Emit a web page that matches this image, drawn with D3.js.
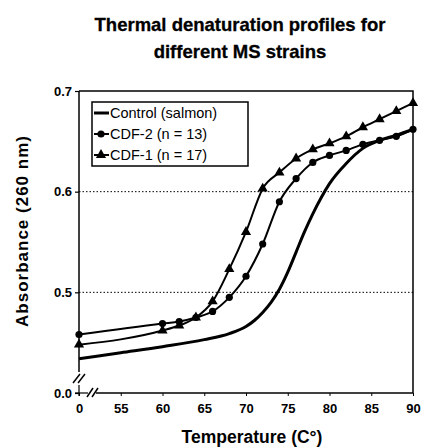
<!DOCTYPE html>
<html>
<head>
<meta charset="utf-8">
<script src="https://cdn.jsdelivr.net/npm/d3@7"></script>
<style>
  body { margin: 0; background: #fff; }
  text { font-family: "Liberation Sans", Arial, sans-serif; }
</style>
</head>
<body>
<svg id="chart" width="431" height="448"></svg>
<script>
// temperatures (first point is the "0" reading at the axis origin)
var tempsCtrl = [50, 55, 60, 65, 68, 70, 71, 72, 73, 74, 75, 76, 77, 78, 79, 80, 82, 84, 86, 88, 90];
var control   = [0.434, 0.440, 0.446, 0.453, 0.459, 0.466, 0.472, 0.480, 0.490, 0.503, 0.520, 0.540, 0.560, 0.578, 0.594, 0.608, 0.628, 0.643, 0.651, 0.656, 0.662];

var tempsCdf = [50, 60, 62, 64, 66, 68, 70, 72, 74, 76, 78, 80, 82, 84, 86, 88, 90];
var cdf2 = [0.458, 0.469, 0.471, 0.475, 0.481, 0.495, 0.516, 0.548, 0.590, 0.613, 0.629, 0.636, 0.641, 0.647, 0.651, 0.655, 0.662];
var cdf1 = [0.448, 0.462, 0.467, 0.475, 0.491, 0.523, 0.560, 0.603, 0.619, 0.633, 0.642, 0.648, 0.655, 0.664, 0.672, 0.680, 0.688];

var xTicks = [50, 55, 60, 65, 70, 75, 80, 85, 90];
var yTicks = [0.4, 0.5, 0.6, 0.7];
var gridValues = [0.5, 0.6];
var legendLabels = ['Control (salmon)', 'CDF-2 (n = 13)', 'CDF-1 (n = 17)'];

var svg = d3.select('#chart');
var mLeft = 79, mRight = 413, mTop = 91, mBottom = 393;

var x = d3.scaleLinear().domain([50, 90]).range([mLeft, mRight]);
var y = d3.scaleLinear().domain([0.4, 0.7]).range([mBottom, mTop]);

// title
svg.append('text')
    .attr('x', 240).attr('y', 31)
    .attr('text-anchor', 'middle')
    .style('font-size', '18.5px').style('font-weight', 'bold')
    .attr('stroke', '#000').attr('stroke-width', 0.3)
    .text('Thermal denaturation profiles for');
svg.append('text')
    .attr('x', 240).attr('y', 58)
    .attr('text-anchor', 'middle')
    .style('font-size', '18.5px').style('font-weight', 'bold')
    .attr('stroke', '#000').attr('stroke-width', 0.3)
    .text('different MS strains');

// dotted grid
svg.append('g').selectAll('line')
    .data(gridValues)
    .join('line')
    .attr('x1', mLeft).attr('x2', mRight)
    .attr('y1', d => y(d)).attr('y2', d => y(d))
    .attr('stroke', '#000').attr('stroke-width', 1)
    .attr('stroke-dasharray', '1.5,2');

// frame: top and right
svg.append('path')
    .attr('d', `M${mLeft},${mTop}H${mRight}V${mBottom}`)
    .attr('fill', 'none').attr('stroke', '#000').attr('stroke-width', 1.5);

// y axis with break
var yAxis = svg.append('g').attr('transform', `translate(${mLeft},0)`)
    .call(d3.axisLeft(y).tickValues(yTicks).tickSize(4)
        .tickFormat(d => d === 0.4 ? '0.0' : d3.format('.1f')(d)));
yAxis.select('.domain').remove();
yAxis.selectAll('text').style('font-size', '13px').style('font-weight', 'bold');
yAxis.selectAll('line').attr('stroke-width', 1.2);

svg.append('line').attr('x1', mLeft).attr('x2', mLeft).attr('y1', mTop).attr('y2', 372)
    .attr('stroke', '#000').attr('stroke-width', 1.5);
svg.append('line').attr('x1', mLeft).attr('x2', mLeft).attr('y1', 385).attr('y2', mBottom + 3)
    .attr('stroke', '#000').attr('stroke-width', 1.2);
[0, 5].forEach(function (o) {
  svg.append('line').attr('x1', mLeft - 6 + o).attr('y1', 383).attr('x2', mLeft + 1 + o).attr('y2', 374)
      .attr('stroke', '#000').attr('stroke-width', 1.5);
});

// x axis with break
var xAxis = svg.append('g').attr('transform', `translate(0,${mBottom})`)
    .call(d3.axisBottom(x).tickValues(xTicks).tickSize(3)
        .tickFormat(d => d === 50 ? '0' : d));
xAxis.select('.domain').remove();
xAxis.selectAll('text').style('font-size', '13px').style('font-weight', 'bold').attr('dy', '1.1em');

svg.append('line').attr('x1', mLeft - 4).attr('x2', mLeft + 9).attr('y1', mBottom).attr('y2', mBottom)
    .attr('stroke', '#000').attr('stroke-width', 1.2);
svg.append('line').attr('x1', mLeft + 17).attr('x2', mRight).attr('y1', mBottom).attr('y2', mBottom)
    .attr('stroke', '#000').attr('stroke-width', 1.5);
[0, 5].forEach(function (o) {
  svg.append('line').attr('x1', mLeft + 8 + o).attr('y1', mBottom + 4).attr('x2', mLeft + 14 + o).attr('y2', mBottom - 5)
      .attr('stroke', '#000').attr('stroke-width', 1.5);
});

// axis titles
svg.append('text')
    .attr('transform', 'translate(28,231) rotate(-90)')
    .attr('text-anchor', 'middle')
    .style('font-size', '17px').style('font-weight', 'bold')
    .style('letter-spacing', '1px')
    .text('Absorbance (260 nm)');
svg.append('text')
    .attr('x', 252).attr('y', 443)
    .attr('text-anchor', 'middle')
    .style('font-size', '17.5px').style('font-weight', 'bold')
    .text('Temperature (C°)');

// curves
var line = d3.line().curve(d3.curveMonotoneX).x(d => x(d[0])).y(d => y(d[1]));

var ctrlData = tempsCtrl.map((t, i) => [t, control[i]]);
var cdf2Data = tempsCdf.map((t, i) => [t, cdf2[i]]);
var cdf1Data = tempsCdf.map((t, i) => [t, cdf1[i]]);

svg.append('path').datum(ctrlData).attr('d', line)
    .attr('fill', 'none').attr('stroke', '#000').attr('stroke-width', 3);
svg.append('path').datum(cdf2Data).attr('d', line)
    .attr('fill', 'none').attr('stroke', '#000').attr('stroke-width', 2);
svg.append('path').datum(cdf1Data).attr('d', line)
    .attr('fill', 'none').attr('stroke', '#000').attr('stroke-width', 2);

svg.append('g').selectAll('circle')
    .data(cdf2Data)
    .join('circle')
    .attr('cx', d => x(d[0])).attr('cy', d => y(d[1]))
    .attr('r', 3.6).attr('fill', '#000');

var tri = d3.symbol().type(d3.symbolTriangle).size(45);
svg.append('g').selectAll('path')
    .data(cdf1Data)
    .join('path')
    .attr('transform', d => `translate(${x(d[0])},${y(d[1])})`)
    .attr('d', tri).attr('fill', '#000');

// legend
var lg = svg.append('g').attr('transform', 'translate(92,102)');
lg.append('rect').attr('width', 156).attr('height', 64)
    .attr('fill', '#fff').attr('stroke', '#000').attr('stroke-width', 1.5);
var items = lg.selectAll('g').data(legendLabels).join('g')
    .attr('transform', (d, i) => `translate(0,${11 + i * 21})`);
items.append('line').attr('x1', 2).attr('x2', 17)
    .attr('stroke', '#000').attr('stroke-width', (d, i) => i === 0 ? 3 : 2);
items.filter((d, i) => i === 1).append('circle').attr('cx', 9).attr('r', 3.6).attr('fill', '#000');
items.filter((d, i) => i === 2).append('path').attr('transform', 'translate(9,0)').attr('d', tri).attr('fill', '#000');
items.append('text').attr('x', 18).attr('dy', '0.35em')
    .style('font-size', '14.5px')
    .text(d => d);
</script>
</body>
</html>
